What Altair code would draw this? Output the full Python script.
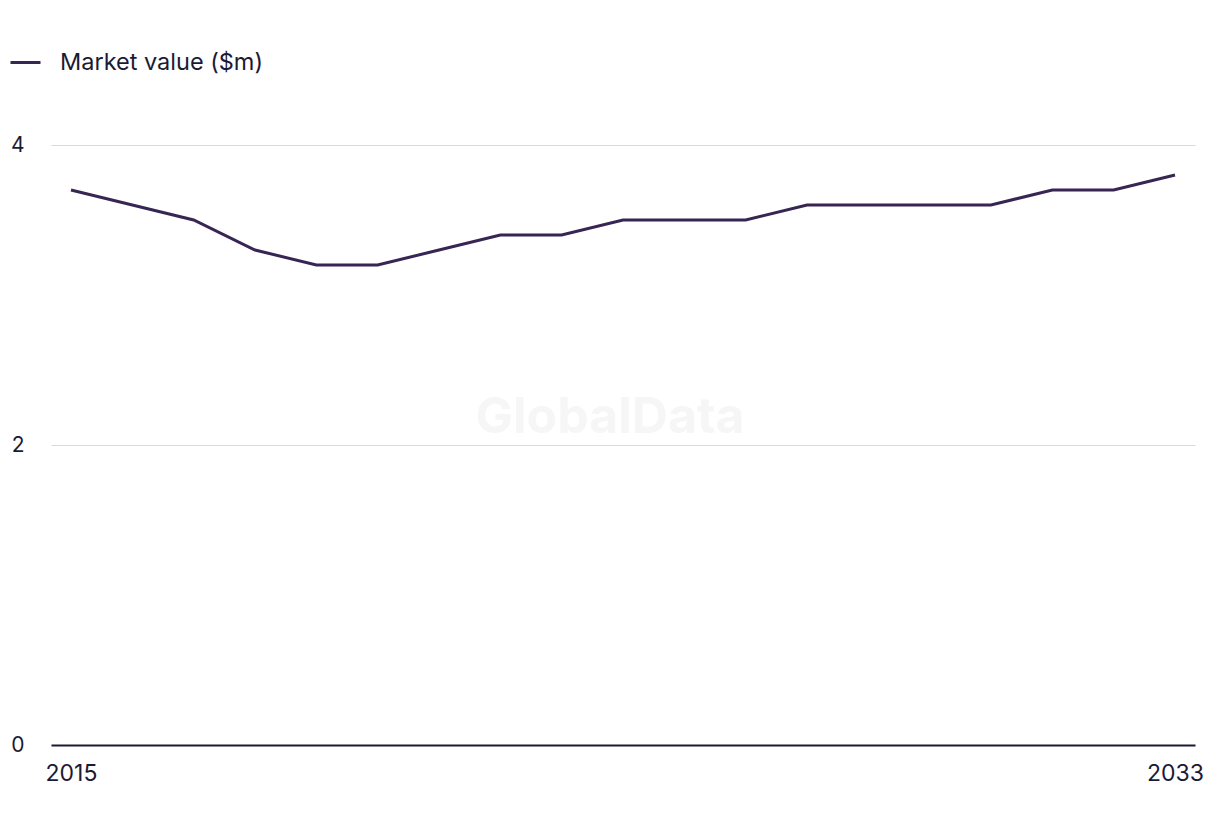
import altair as alt
import pandas as pd

years = list(range(2015, 2034))
values = [3.7, 3.6, 3.5, 3.3, 3.2, 3.2, 3.3, 3.4, 3.4, 3.5, 3.5, 3.5, 3.6, 3.6, 3.6, 3.6, 3.7, 3.7, 3.8]
series = ["Market value ($m)"] * len(years)

df = pd.DataFrame({"year": years, "value": values, "series": series})

FONT = "Inter"
DARK = "#1c1a33"
LINE = "#372554"

line = alt.Chart(df).mark_line(strokeWidth=3, color=LINE).encode(
    x=alt.X("year:Q",
            scale=alt.Scale(domain=[2014.674, 2033.326], nice=False, zero=False),
            axis=alt.Axis(values=[2015, 2033], format="d", title=None, grid=False,
                          ticks=False, domainColor=DARK, domainWidth=2,
                          labelFontSize=23, labelColor=DARK, labelPadding=17,
                          labelFont=FONT, labelFlush=False)),
    y=alt.Y("value:Q",
            scale=alt.Scale(domain=[0, 4], nice=False),
            axis=alt.Axis(values=[0, 2, 4], title=None, domain=False, ticks=False,
                          gridColor="#d9d9d9", gridWidth=1.2,
                          labelFontSize=21, labelColor=DARK, labelPadding=27,
                          labelFont=FONT)),
    color=alt.Color("series:N",
                    scale=alt.Scale(range=[LINE]),
                    legend=alt.Legend(title=None, orient="none", legendX=-42, legendY=-99,
                                      symbolType="stroke", symbolSize=900,
                                      symbolStrokeWidth=3, labelFontSize=23.5,
                                      labelLimit=600,
                                      labelFont=FONT, labelColor=DARK, labelOffset=18)),
)

watermark = alt.Chart(pd.DataFrame({"t": ["GlobalData"]})).mark_text(
    fontSize=50, fontWeight="bold", color="#f6f6f6", font=FONT
).encode(text="t:N", x=alt.value(559), y=alt.value(273))

chart = alt.layer(watermark, line).properties(
    width=1144, height=600,
    autosize=alt.AutoSizeParams(type="none"),
    padding={"left": 51, "top": 145, "right": 25, "bottom": 91},
    background="white",
).configure_view(stroke=None)

chart.save("out.html", embed_options={"renderer": "svg", "actions": False})
